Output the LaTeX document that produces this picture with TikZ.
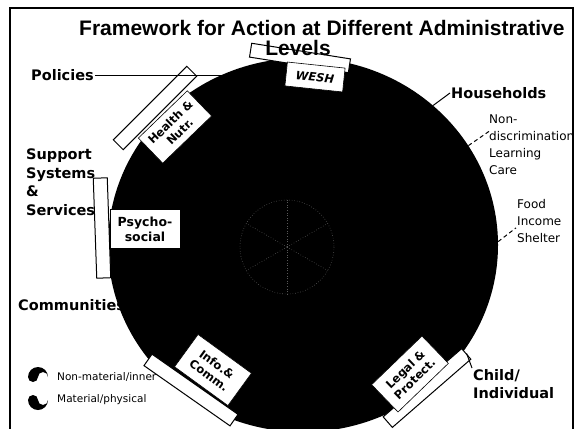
\documentclass[tikz,border=0pt]{standalone}
\usepackage{fontspec}
\setmainfont{DejaVu Sans}
\newfontfamily\titlefont{Liberation Sans}
\usetikzlibrary{positioning,calc,shapes.geometric}

\begin{document}
\begin{tikzpicture}[x=1pt, y=-1pt,
    every node/.style={inner sep=1pt},
    lbl/.style={font=\fontsize{14.5}{18.5}\selectfont\bfseries, align=left},
    note/.style={font=\fontsize{12}{17}\selectfont, align=left},
    legtext/.style={font=\fontsize{10.5}{12}\selectfont, anchor=west},
    strip/.style={draw=black, fill=white, line width=1pt, minimum height=14pt, inner sep=0pt},
    tag/.style={draw=black, fill=white, line width=0.6pt, align=center, inner sep=2pt,
        font=\fontsize{11.5}{13.5}\selectfont\bfseries},
    tick/.style={line width=1pt},
    hdr/.style={font=\titlefont\fontsize{21}{24}\bfseries\selectfont}
]
    \useasboundingbox (0,0) rectangle (577,428);

    % Frame and title
    \draw[line width=1.2pt] (10,430) -- (10,8) -- (573,8) -- (573,430);
    \node[hdr, anchor=west] (title) at (78,28) {Framework for Action at Different Administrative};

    % Disc
    \node[ellipse, fill=black, minimum width=390pt, minimum height=374pt, inner sep=0pt] (disc) at (303,245) {};
    \draw[white!35!black, dotted, line width=0.6pt] (287,247) circle (47);
    \foreach \a in {30,90,150,210,270,330}
        \draw[white!35!black, dotted, line width=0.6pt] (287,247) -- ++(\a:47);

    % Strips along the edge
    \node[strip, minimum width=100pt, rotate=-9] (wstrip) at (300,58) {};
    \node[strip, minimum width=104pt, rotate=45] (hstrip) at (155,108) {};
    \node[strip, minimum width=100pt, rotate=-88] (pstrip) at (102,228) {};
    \node[strip, minimum width=105pt, rotate=-35] (istrip) at (191,390) {};
    \node[strip, minimum width=104pt, rotate=41] (lstrip) at (427,388) {};

    \node[hdr] (levels) at (298,48) {Levels};

    % Tags on the disc
    \node[tag, minimum width=58pt, minimum height=24pt, rotate=-6,
        font=\fontsize{11.5}{13.5}\selectfont\bfseries\itshape] (wesh) at (315,77) {WESH};
    \node[tag, minimum width=68pt, minimum height=35pt, rotate=44] (health) at (175,127) {Health \&\\Nutr.};
    \node[tag, minimum width=70pt, minimum height=39pt,
        font=\fontsize{12.5}{15}\selectfont\bfseries] (psycho) at (145,229) {Psycho-\\social};
    \node[tag, minimum width=66pt, minimum height=40pt, rotate=-36] (info) at (213,370) {Info.\&\\Comm.};
    \node[tag, minimum width=70pt, minimum height=38pt, rotate=44] (legal) at (410,374) {Legal \&\\Protect.};

    % Left labels
    \node[lbl, anchor=west] (pol) at (30,75) {Policies};
    \node[lbl, anchor=north west] (sss) at (25,148) {Support\\Systems\\\&\\Services};
    \node[lbl, anchor=west] (com) at (17,305) {Communities};

    % Right labels
    \node[lbl, anchor=west] (hh) at (450,93) {Households};
    \node[note, anchor=north west] (ndl) at (488,114) {Non-\\discrimination\\Learning\\Care};
    \node[note, anchor=north west] (fis) at (516,198) {Food\\Income\\Shelter};
    \node[lbl, anchor=north west] (chi) at (472,368) {Child/\\Individual};

    % Pointers
    \draw[tick] (pol.east) -- (pol.east -| disc.115);
    \draw[tick] (disc.47) -- (hh.west);
    \draw[tick, dash pattern=on 4pt off 3pt] (disc.31) -- ($(ndl.north west)+(3,16)$);
    \draw[tick, dash pattern=on 4pt off 3pt] (disc.1) -- ($(fis.west)+(0,7)$);
    \draw[tick] (lstrip.east) -- (chi.north west);

    % Legend
    \fill (28,377) arc[start angle=180, end angle=360, radius=10]
        arc[start angle=0, end angle=-180, radius=5]
        arc[start angle=0, end angle=180, radius=5] -- cycle;
    \fill (28,400) arc[start angle=180, end angle=0, radius=10]
        arc[start angle=0, end angle=180, radius=5]
        arc[start angle=0, end angle=-180, radius=5] -- cycle;
    \node[legtext] (inner) at (56,377) {Non-material/inner};
    \node[legtext] (phys) at (56,400) {Material/physical};
\end{tikzpicture}
\end{document}
